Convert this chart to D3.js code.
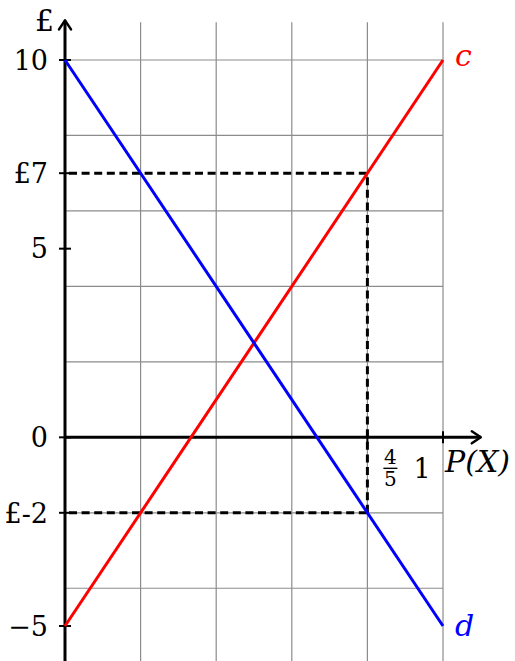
<!DOCTYPE html>
<html>
<head>
<meta charset="utf-8">
<script src="https://cdn.jsdelivr.net/npm/d3@7"></script>
<style>
  body { margin: 0; background: #fff; }
  text { font-family: "DejaVu Serif", "Liberation Serif", serif; }
</style>
</head>
<body>
<div id="chart"></div>
<script>
// data
const lineC = [{ p: 0, v: -5 }, { p: 1, v: 10 }];
const lineD = [{ p: 0, v: 10 }, { p: 1, v: -5 }];
const gridX = [0.2, 0.4, 0.6, 0.8, 1];
const gridY = [-4, -2, 0, 2, 4, 6, 8, 10];
const yTicks = [10, 7, 5, 0, -2, -5];
const yTickLabels = ["10", "£7", "5", "0", "£-2", "\u22125"];
const xTicks = [0.8, 1];
const guideP = 0.8;
const guideHigh = 7;
const guideLow = -2;

const width = 515;
const height = 661;

const svg = d3.select("#chart")
    .append("svg")
    .attr("width", width)
    .attr("height", height);

const x = d3.scaleLinear().domain([0, 1]).range([65, 443]);
const y = d3.scaleLinear().domain([-5, 10]).range([626, 60]);

// grid
svg.append("g")
    .selectAll("line")
    .data(gridX)
    .join("line")
    .attr("x1", d => x(d)).attr("x2", d => x(d))
    .attr("y1", y(11)).attr("y2", y(-6.2))
    .attr("stroke", "#8c8c8c")
    .attr("stroke-width", 1.2);

svg.append("g")
    .selectAll("line")
    .data(gridY)
    .join("line")
    .attr("x1", x(0)).attr("x2", x(1))
    .attr("y1", d => y(d)).attr("y2", d => y(d))
    .attr("stroke", "#8c8c8c")
    .attr("stroke-width", 1.2);

// dashed guides
const dash = svg.append("g")
    .attr("stroke", "#000")
    .attr("stroke-width", 3)
    .attr("stroke-dasharray", "8,4.6")
    .attr("stroke-dashoffset", -4);
dash.append("line")
    .attr("x1", x(0)).attr("x2", x(guideP))
    .attr("y1", y(guideHigh)).attr("y2", y(guideHigh));
dash.append("line")
    .attr("x1", x(0)).attr("x2", x(guideP))
    .attr("y1", y(guideLow)).attr("y2", y(guideLow));
dash.append("line")
    .attr("x1", x(guideP)).attr("x2", x(guideP))
    .attr("y1", y(guideHigh)).attr("y2", y(guideLow));

// axes
const axes = svg.append("g")
    .attr("stroke", "#000")
    .attr("stroke-width", 3)
    .attr("fill", "none");
axes.append("line")
    .attr("x1", x(0)).attr("x2", x(0))
    .attr("y1", y(-6.2)).attr("y2", y(11.05));
axes.append("line")
    .attr("x1", x(0)).attr("x2", x(1.1))
    .attr("y1", y(0)).attr("y2", y(0));
// arrow heads
axes.append("path")
    .attr("stroke-width", 2.5)
    .attr("stroke-linecap", "round")
    .attr("stroke-linejoin", "round")
    .attr("d", `M${x(0) - 6},${y(11.05) + 9} Q${x(0) - 2},${y(11.05) + 3} ${x(0)},${y(11.05)} Q${x(0) + 2},${y(11.05) + 3} ${x(0) + 6},${y(11.05) + 9}`);
axes.append("path")
    .attr("stroke-width", 2.5)
    .attr("stroke-linecap", "round")
    .attr("stroke-linejoin", "round")
    .attr("d", `M${x(1.1) - 9},${y(0) - 6} Q${x(1.1) - 3},${y(0) - 2} ${x(1.1)},${y(0)} Q${x(1.1) - 3},${y(0) + 2} ${x(1.1) - 9},${y(0) + 6}`);

// ticks
axes.append("g")
    .selectAll("line")
    .data(yTicks)
    .join("line")
    .attr("stroke-width", 2)
    .attr("x1", x(0) - 6).attr("x2", x(0) + 6)
    .attr("y1", d => y(d)).attr("y2", d => y(d));
axes.append("g")
    .selectAll("line")
    .data(xTicks)
    .join("line")
    .attr("stroke-width", 2)
    .attr("x1", d => x(d)).attr("x2", d => x(d))
    .attr("y1", y(0) - 6).attr("y2", y(0) + 6);

// tick labels
svg.append("g")
    .selectAll("text")
    .data(yTicks)
    .join("text")
    .attr("x", x(0) - 17)
    .attr("y", d => y(d))
    .attr("dy", "0.36em")
    .attr("text-anchor", "end")
    .style("font-size", "27px")
    .text((d, i) => yTickLabels[i]);

svg.append("text")
    .attr("x", 54)
    .attr("y", 31)
    .attr("text-anchor", "end")
    .style("font-size", "30px")
    .text("£");

// fraction 4/5
const frac = svg.append("g")
    .attr("transform", `translate(${x(guideP) + 23},${y(0) + 31})`);
frac.append("text").attr("y", -4).attr("text-anchor", "middle").style("font-size", "20px").text("4");
frac.append("line").attr("x1", -7).attr("x2", 7).attr("y1", 0).attr("y2", 0).attr("stroke", "#000").attr("stroke-width", 1.4);
frac.append("text").attr("y", 18).attr("text-anchor", "middle").style("font-size", "20px").text("5");

svg.append("text")
    .attr("x", x(1) - 21)
    .attr("y", y(0) + 41)
    .attr("text-anchor", "middle")
    .style("font-size", "27px")
    .text("1");

svg.append("text")
    .attr("x", x(1) + 2)
    .attr("y", y(0) + 35)
    .style("font-size", "30px")
    .style("font-style", "italic")
    .text("P(X)");

// lines
const line = d3.line().x(d => x(d.p)).y(d => y(d.v));
svg.append("path")
    .datum(lineC)
    .attr("d", line)
    .attr("fill", "none")
    .attr("stroke", "#ff0000")
    .attr("stroke-width", 3);
svg.append("path")
    .datum(lineD)
    .attr("d", line)
    .attr("fill", "none")
    .attr("stroke", "#0000ff")
    .attr("stroke-width", 3);

svg.append("text")
    .attr("x", x(1) + 12)
    .attr("y", y(10) + 6)
    .attr("fill", "#ff0000")
    .style("font-size", "30px")
    .style("font-style", "italic")
    .text("c");
svg.append("text")
    .attr("x", x(1) + 12)
    .attr("y", y(-5) + 10)
    .attr("fill", "#0000ff")
    .style("font-size", "30px")
    .style("font-style", "italic")
    .text("d");
</script>
</body>
</html>
